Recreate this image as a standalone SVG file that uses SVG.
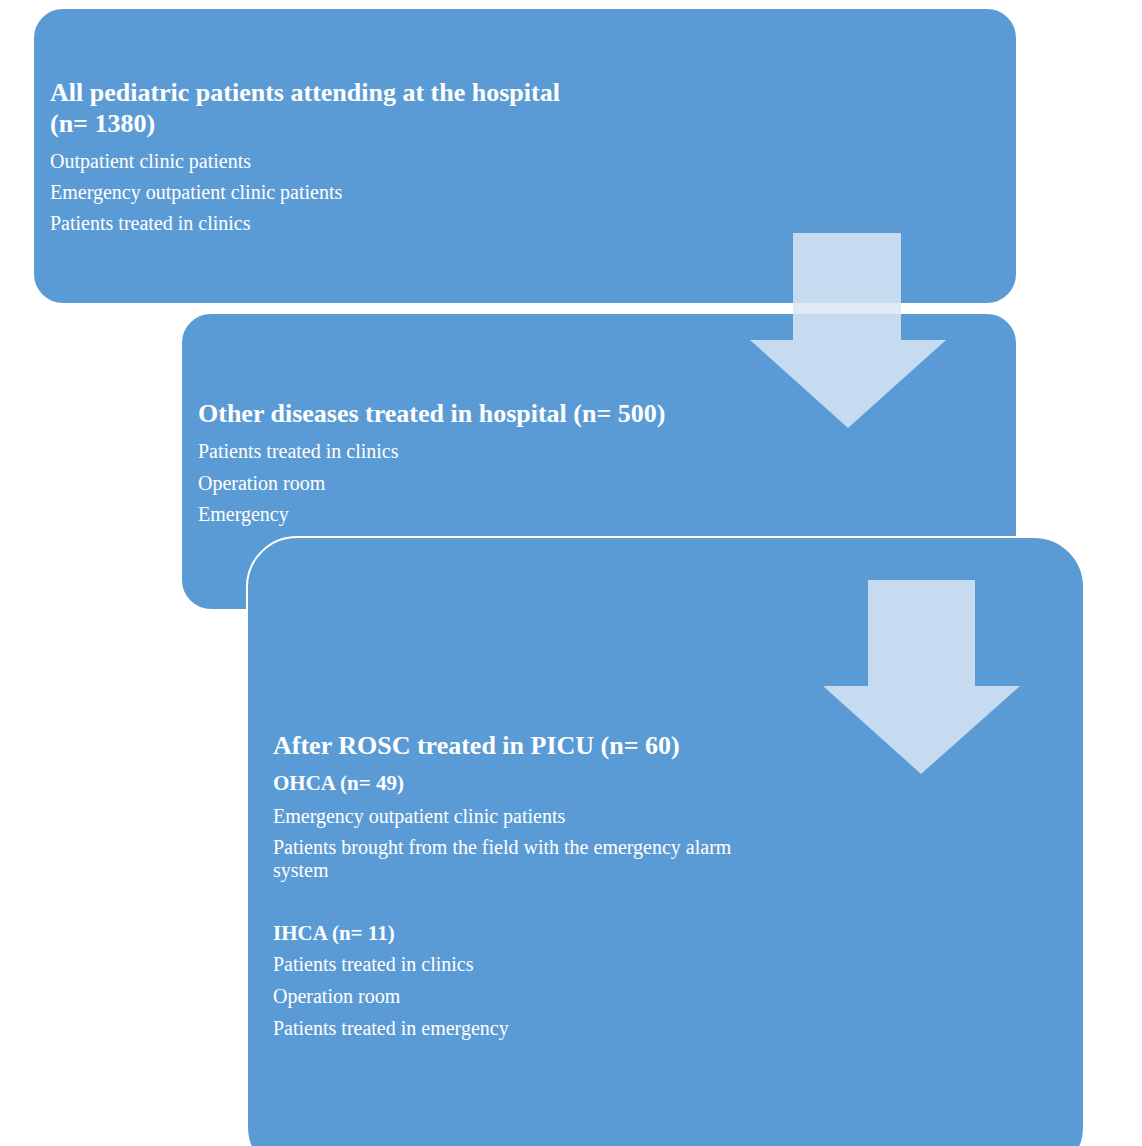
<svg xmlns="http://www.w3.org/2000/svg" width="1142" height="1146" viewBox="0 0 1142 1146">
<style>
.box{fill:#5b9bd5;stroke:#ffffff;stroke-width:2}
.arr{fill:#dbe6f4;fill-opacity:0.85}
text{font-family:"Liberation Serif",serif;fill:#ffffff}
.h{font-weight:bold;font-size:26px}
.s{font-weight:bold;font-size:21px}
.b{font-size:20px}
</style>
<rect width="1142" height="1146" fill="#ffffff"/>
<g id="node1">
<rect class="box" x="33" y="8" width="984" height="296" rx="30"/>
<text class="h" x="50" y="101">All pediatric patients attending at the hospital</text>
<text class="h" x="50" y="132">(n= 1380)</text>
<text class="b" x="50" y="168">Outpatient clinic patients</text>
<text class="b" x="50" y="199">Emergency outpatient clinic patients</text>
<text class="b" x="50" y="230">Patients treated in clinics</text>
</g>
<g id="node2">
<rect class="box" x="181" y="313" width="836" height="297" rx="30"/>
<text class="h" x="198" y="422">Other diseases treated in hospital (n= 500)</text>
<text class="b" x="198" y="458">Patients treated in clinics</text>
<text class="b" x="198" y="490">Operation room</text>
<text class="b" x="198" y="521">Emergency</text>
</g>
<g id="node3">
<rect class="box" x="247" y="537" width="837" height="640" rx="50"/>
<text class="h" x="273" y="754">After ROSC treated in PICU (n= 60)</text>
<text class="s" x="273" y="790">OHCA (n= 49)</text>
<text class="b" x="273" y="823">Emergency outpatient clinic patients</text>
<text class="b" x="273" y="854">Patients brought from the field with the emergency alarm</text>
<text class="b" x="273" y="877">system</text>
<text class="s" x="273" y="940">IHCA (n= 11)</text>
<text class="b" x="273" y="971">Patients treated in clinics</text>
<text class="b" x="273" y="1003">Operation room</text>
<text class="b" x="273" y="1035">Patients treated in emergency</text>
</g>
<g id="connectors">
<polygon class="arr" points="793,233 901,233 901,340 946,340 848,428 750,340 793,340"/>
<polygon class="arr" points="868,580 975,580 975,686 1020,686 921,774 823,686 868,686"/>
</g>
</svg>
